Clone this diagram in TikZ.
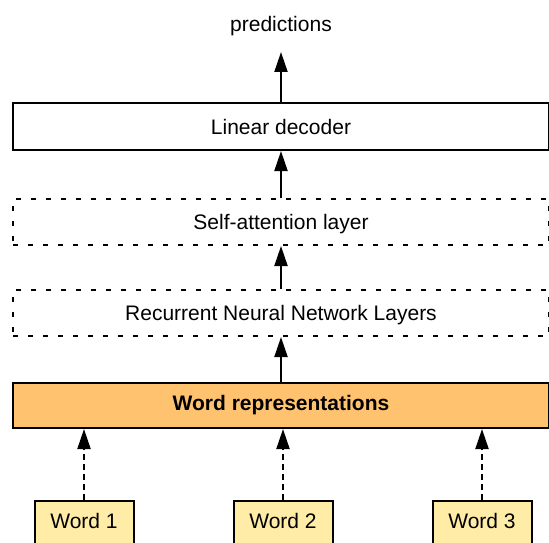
\documentclass[tikz,border=0pt]{standalone}
\usepackage{fontspec}
\setmainfont{Liberation Sans}
\usetikzlibrary{arrows.meta}
\definecolor{reprfill}{HTML}{FFC370}
\definecolor{wordfill}{HTML}{FFECA6}
\tikzset{
  layerbox/.style={draw, line width=2pt, minimum width=536pt, inner sep=0pt},
  dottedbox/.style={layerbox, dash pattern=on 5pt off 10pt, text depth=0pt},
  wordbox/.style={draw, fill=wordfill, line width=2pt, minimum width=99pt,
    minimum height=60pt, anchor=north, inner sep=0pt, text depth=20pt},
  flow/.style={line width=2pt, -{Triangle[length=20pt,width=13pt]}},
  feed/.style={flow, dash pattern=on 6pt off 4pt},
  every node/.style={font=\fontsize{21pt}{25pt}\selectfont}
}
\begin{document}
\begin{tikzpicture}[x=1pt,y=-1pt]
  \useasboundingbox (0,0) rectangle (549,543);
  \clip (0,0) rectangle (549,543);

  % output label and the stack of layers
  \node (pred) at (281,26.5) {predictions};
  \coordinate (ptip) at (281,52);
  \node[layerbox, minimum height=47pt] (dec) at (281,126.5) {Linear decoder};
  \node[dottedbox, minimum height=46pt] (att) at (281,222) {Self-attention layer};
  \node[dottedbox, minimum height=46pt] (rnn) at (281,313) {Recurrent Neural Network Layers};
  \node[layerbox, fill=reprfill, minimum height=45pt] (wr) at (281,405.5)
    {\bfseries Word representations};

  % input words
  \node[wordbox] (w1) at (84,500) {Word 1};
  \node[wordbox] (w2) at (283,500) {Word 2};
  \node[wordbox] (w3) at (482,500) {Word 3};

  % connections between layers
  \draw[flow] (dec.north) -- (ptip);
  \draw[flow] (att.north) -- (dec.south);
  \draw[flow] (rnn.north) -- (att.south);
  \draw[flow] (wr.north) -- (rnn.south);

  % words feeding into the representation layer
  \draw[feed] (w1.north) -- (w1.north |- wr.south);
  \draw[feed] (w2.north) -- (w2.north |- wr.south);
  \draw[feed] (w3.north) -- (w3.north |- wr.south);
\end{tikzpicture}
\end{document}
